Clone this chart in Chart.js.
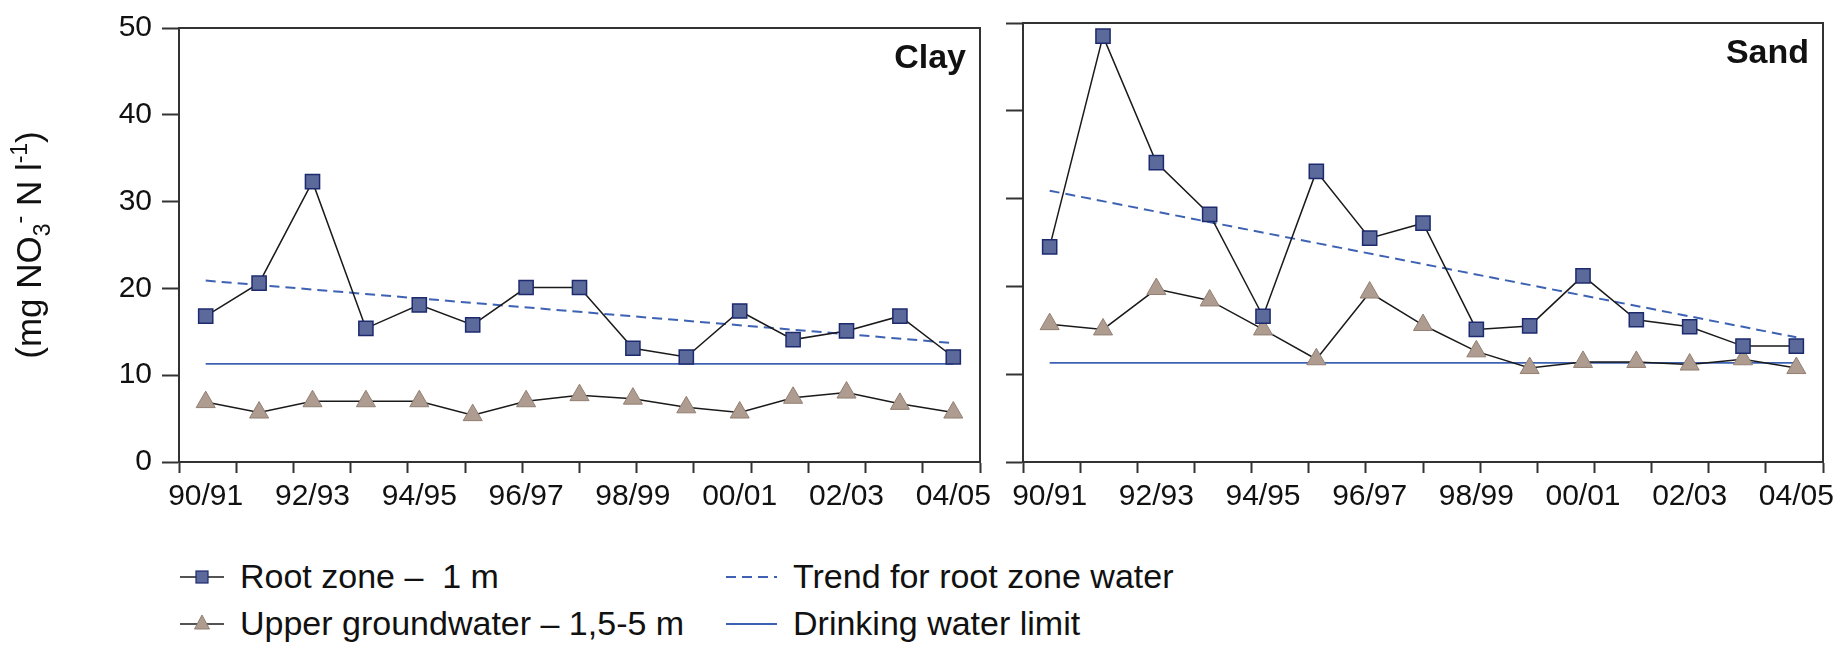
<!DOCTYPE html>
<html>
<head>
<meta charset="utf-8">
<title>Nitrate in root zone and upper groundwater</title>
<script src="https://cdn.jsdelivr.net/npm/chart.js@4.4.1/dist/chart.umd.min.js"></script>
<style>
  html, body { margin: 0; padding: 0; background: #fff; }
  #wrap { position: relative; width: 1845px; height: 645px; font-family: "Liberation Sans", Arial, sans-serif; color: #111; }
  #clayBox { position: absolute; left: 0; top: 0; width: 1000px; height: 520px; }
  #sandBox { position: absolute; left: 1000px; top: 0; width: 845px; height: 520px; }
  #legend { position: absolute; left: 180px; top: 553px; display: grid; grid-template-columns: 546px auto; }
  .item { display: flex; align-items: center; height: 47px; font-size: 34px; white-space: pre; }
  .item svg { margin-right: 16px; flex: none; }
</style>
</head>
<body>
<div id="wrap">
  <div id="clayBox"><canvas id="clay"></canvas></div>
  <div id="sandBox"><canvas id="sand"></canvas></div>
  <div id="legend"></div>
</div>
<script>
// data (mg NO3-N per litre, winter seasons)
const seasons = ['90/91','91/92','92/93','93/94','94/95','95/96','96/97','97/98','98/99','99/00','00/01','01/02','02/03','03/04','04/05'];
const seriesNames = ['Root zone –  1 m', 'Upper groundwater – 1,5-5 m', 'Trend for root zone water', 'Drinking water limit'];
const yTicks = [0, 10, 20, 30, 40, 50];

const clayRoot   = [16.8, 20.6, 32.3, 15.4, 18.1, 15.8, 20.1, 20.1, 13.1, 12.1, 17.4, 14.1, 15.1, 16.8, 12.1];
const clayGround = [6.9, 5.7, 7.0, 7.0, 7.0, 5.4, 7.0, 7.7, 7.3, 6.3, 5.7, 7.4, 8.0, 6.7, 5.7];
const clayTrend  = [20.9, 13.7];   // value at first and last season

const sandRoot   = [24.5, 48.5, 34.1, 28.2, 16.6, 33.1, 25.5, 27.2, 15.1, 15.5, 21.2, 16.2, 15.4, 13.2, 13.2];
const sandGround = [15.7, 15.1, 19.7, 18.4, 15.1, 11.7, 19.3, 15.6, 12.6, 10.7, 11.4, 11.4, 11.1, 11.7, 10.7];
const sandTrend  = [30.9, 14.2];

const limitValue = 11.3;

const AXIS = '#333';
const FONT = '"Liberation Sans", Arial, sans-serif';
const BLUE = '#3d62b3';

// frame on top and right of plot area
const framePlugin = {
  id: 'frame',
  afterDraw(chart) {
    const { ctx, chartArea: a } = chart;
    ctx.save();
    ctx.strokeStyle = AXIS;
    ctx.lineWidth = 2;
    ctx.beginPath();
    ctx.moveTo(a.left, a.top);
    ctx.lineTo(a.right, a.top);
    ctx.lineTo(a.right, a.bottom);
    ctx.stroke();
    ctx.restore();
  }
};

// "Clay" / "Sand" in the upper right corner
const panelLabel = {
  id: 'panelLabel',
  afterDraw(chart, args, o) {
    const { ctx, chartArea: a } = chart;
    ctx.save();
    ctx.font = 'bold 34px ' + FONT;
    ctx.fillStyle = '#111';
    ctx.textAlign = 'right';
    ctx.textBaseline = 'alphabetic';
    ctx.fillText(o.text, a.right - 14, a.top + 40);
    ctx.restore();
  }
};

// rotated y title with sub/superscripts
const yTitle = {
  id: 'yTitle',
  afterDraw(chart, args, o) {
    if (!o.show) return;
    const ctx = chart.ctx;
    const f = 35;
    // text, size factor, baseline shift (em)
    const parts = [['(mg NO', 1, 0], ['3', 0.65, 0.25], ['-', 0.65, -0.4], [' N l', 1, 0], ['-1', 0.65, -0.4], [')', 1, 0]];
    ctx.save();
    let total = 0;
    parts.forEach(p => { ctx.font = Math.round(f * p[1]) + 'px ' + FONT; total += ctx.measureText(p[0]).width; });
    ctx.translate(41, 245);
    ctx.rotate(-Math.PI / 2);
    ctx.fillStyle = '#111';
    ctx.textBaseline = 'alphabetic';
    ctx.textAlign = 'left';
    let x = -total / 2;
    parts.forEach(p => {
      ctx.font = Math.round(f * p[1]) + 'px ' + FONT;
      ctx.fillText(p[0], x, p[2] * f);
      x += ctx.measureText(p[0]).width;
    });
    ctx.restore();
  }
};

function asPoints(arr) { return arr.map((y, i) => ({ x: i, y: y })); }
function ends(pair) { return [{ x: 0, y: pair[0] }, { x: seasons.length - 1, y: pair[1] }]; }

function buildDatasets(root, ground, trend) {
  return [
    {
      label: seriesNames[0], data: asPoints(root), order: 1,
      borderColor: '#1a1a1a', borderWidth: 1.5,
      pointStyle: 'rect', pointRadius: 10, pointHoverRadius: 10,
      pointBackgroundColor: '#5b6a9b', pointBorderColor: '#1e2a6e', pointBorderWidth: 1.5
    },
    {
      label: seriesNames[1], data: asPoints(ground), order: 2,
      borderColor: '#1a1a1a', borderWidth: 1.5,
      pointStyle: 'triangle', pointRadius: 11, pointHoverRadius: 11,
      pointBackgroundColor: '#ad9c8f', pointBorderColor: '#927f72', pointBorderWidth: 1
    },
    {
      label: seriesNames[2], data: ends(trend), order: 3,
      borderColor: BLUE, borderWidth: 2, borderDash: [10, 6], pointRadius: 0
    },
    {
      label: seriesNames[3], data: ends([limitValue, limitValue]), order: 4,
      borderColor: BLUE, borderWidth: 1.8, pointRadius: 0
    }
  ];
}

function makePanel(id, root, ground, trend, name, opts) {
  const n = seasons.length;
  return new Chart(document.getElementById(id), {
    type: 'line',
    data: { datasets: buildDatasets(root, ground, trend) },
    options: {
      responsive: true,
      maintainAspectRatio: false,
      animation: false,
      clip: false,
      layout: { autoPadding: false, padding: { top: 23, right: opts.padRight, bottom: 0, left: 0 } },
      elements: { line: { tension: 0 } },
      plugins: {
        legend: { display: false },
        tooltip: { enabled: false },
        panelLabel: { text: name },
        yTitle: { show: opts.yLabels }
      },
      scales: {
        x: {
          type: 'linear',
          min: -0.5,
          max: n - 0.5,
          afterBuildTicks: s => {
            // 15 tick marks spread evenly over the frame, labels on every other season
            const t = [];
            for (let k = 0; k < n; k++) t.push({ value: -0.5 + k * n / (n - 1), mark: true });
            seasons.forEach((c, i) => { if (i % 2 === 0) t.push({ value: i, cat: c }); });
            t.sort((a, b) => a.value - b.value);
            s.ticks = t;
          },
          afterFit: s => { s.height = 58; },
          ticks: {
            autoSkip: false, maxRotation: 0, padding: 6,
            font: { size: 30, family: FONT }, color: '#111',
            callback: (v, i, t) => t[i].cat || ''
          },
          grid: {
            drawOnChartArea: false, tickLength: 11, tickWidth: 2,
            tickColor: c => (c.tick && c.tick.mark) ? AXIS : 'rgba(0,0,0,0)'
          },
          border: { color: AXIS, width: 2 }
        },
        y: {
          min: 0,
          max: 50,
          afterBuildTicks: s => { s.ticks = yTicks.map(v => ({ value: v })); },
          afterFit: s => { s.width = opts.yWidth; },
          ticks: { display: opts.yLabels, padding: 10, font: { size: 30, family: FONT }, color: '#111' },
          grid: { drawOnChartArea: false, tickLength: 17, tickWidth: 2, tickColor: AXIS },
          border: { color: AXIS, width: 2 }
        }
      }
    },
    plugins: [framePlugin, panelLabel, yTitle]
  });
}

const clayChart = makePanel('clay', clayRoot, clayGround, clayTrend, 'Clay', { yWidth: 179, padRight: 20, yLabels: true });
makePanel('sand', sandRoot, sandGround, sandTrend, 'Sand', { yWidth: 23, padRight: 22, yLabels: false });

// legend built from the dataset styles, two columns
function markerSvg(ds, w) {
  const h = 24, cy = h / 2;
  const dash = ds.borderDash ? ` stroke-dasharray="${ds.borderDash.join(',')}"` : '';
  let s = `<svg width="${w}" height="${h}" xmlns="http://www.w3.org/2000/svg">`;
  s += `<line x1="0" y1="${cy}" x2="${w}" y2="${cy}" stroke="${ds.borderColor}" stroke-width="${ds.borderWidth}"${dash}/>`;
  const cx = w / 2;
  if (ds.pointStyle === 'rect') {
    s += `<rect x="${cx - 6}" y="${cy - 6}" width="12" height="12" fill="${ds.pointBackgroundColor}" stroke="${ds.pointBorderColor}" stroke-width="1.2"/>`;
  } else if (ds.pointStyle === 'triangle') {
    s += `<polygon points="${cx},${cy - 9} ${cx + 7.5},${cy + 5} ${cx - 7.5},${cy + 5}" fill="${ds.pointBackgroundColor}" stroke="${ds.pointBorderColor}" stroke-width="1"/>`;
  }
  return s + '</svg>';
}

const legendEl = document.getElementById('legend');
const dsets = clayChart.data.datasets;
[0, 2, 1, 3].forEach((idx, pos) => {
  const ds = dsets[idx];
  const div = document.createElement('div');
  div.className = 'item';
  div.innerHTML = markerSvg(ds, pos % 2 === 0 ? 44 : 51);
  const span = document.createElement('span');
  span.textContent = ds.label;
  div.appendChild(span);
  legendEl.appendChild(div);
});
</script>
</body>
</html>
